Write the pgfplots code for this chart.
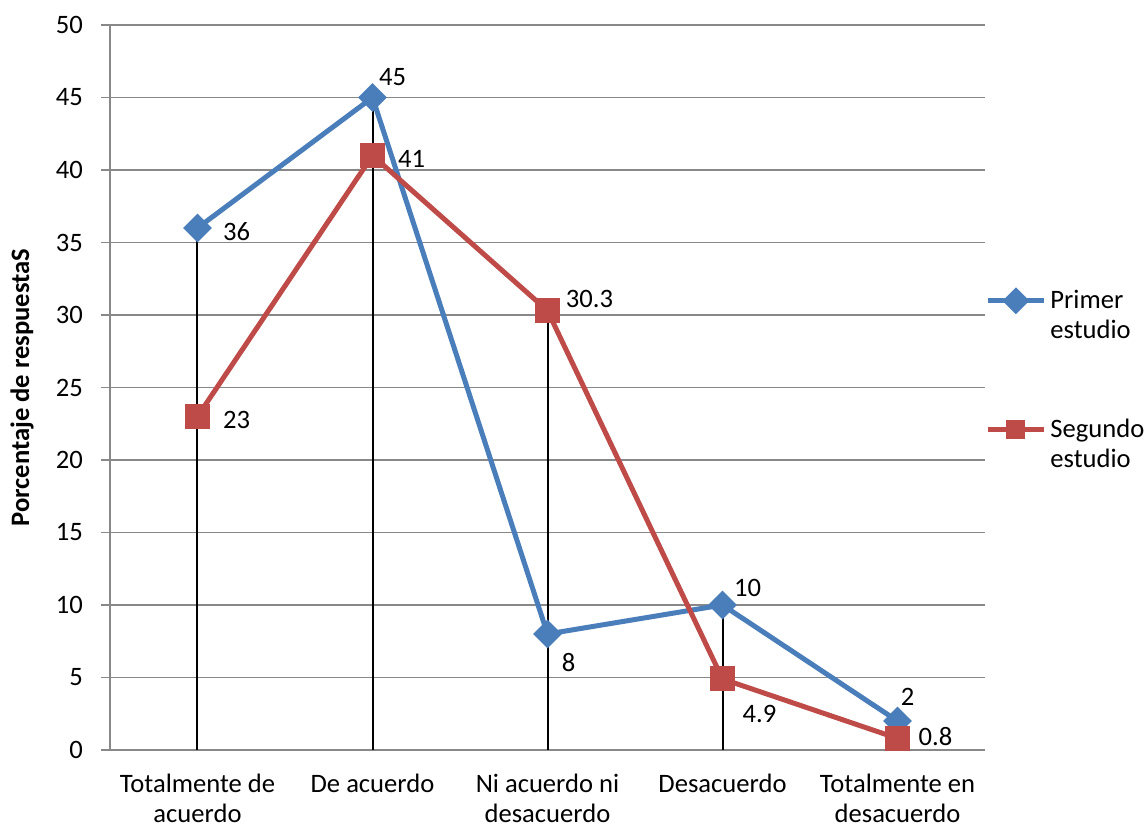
\documentclass[border=0pt]{standalone}
\usepackage{fontspec}
\setmainfont{Carlito}
\usepackage{pgfplots}
\pgfplotsset{compat=1.18}
\definecolor{serieA}{HTML}{4A7EBB}
\definecolor{serieB}{HTML}{BE4B48}
\definecolor{rejilla}{HTML}{888888}

\begin{document}
\begin{tikzpicture}[font=\fontsize{13.3}{15}\selectfont]
\path[use as bounding box] (-55pt,-39.5pt) rectangle (518.5pt,375pt);
\begin{axis}[
  scale only axis,
  width=437.5pt, height=362.5pt,
  xmin=-0.5, xmax=4.5, ymin=0, ymax=50,
  axis x line*=bottom, axis y line*=left,
  axis line style={rejilla, line width=0.75pt, -},
  xtick={0,1,2,3,4},
  xticklabels={{Totalmente de\\acuerdo},{De acuerdo},{Ni acuerdo ni\\desacuerdo},{Desacuerdo},{Totalmente en\\desacuerdo}},
  x tick label style={align=center, yshift=-4pt},
  major x tick style={draw=none},
  ytick={0,5,...,50},
  tick align=outside,
  major tick length=4.5pt,
  y tick style={rejilla, line width=0.75pt},
  yticklabel style={xshift=-5.5pt},
  ymajorgrids,
  grid style={rejilla, line width=0.75pt},
  /pgf/number format/assume math mode=true,
  ylabel={\bfseries Porcentaje de respuestaS},
  ylabel style={at={(axis description cs:-0.1006,0.5)}, rotate=0, anchor=center},
  legend style={draw=none, fill=none, at={(axis description cs:1.0,0.532)}, anchor=west,
    cells={anchor=base west}, row sep=48.5pt, inner sep=0pt},
  legend image code/.code={\draw[#1, mark repeat=2, mark phase=2, mark size=3.5pt] plot coordinates {(0pt,4pt) (14pt,4pt) (28pt,4pt)};},
]
\addplot[serieA, line width=2.5pt, mark=square*, mark size=3.8pt, mark options={rotate=45, solid}]
  coordinates {(0,36) (1,45) (2,8) (3,10) (4,2)};
\addlegendentry{\begin{tabular}[t]{@{}l@{}}Primer\\estudio\end{tabular}}
\addplot[serieB, line width=2.5pt, mark=square*, mark size=5pt, mark options={solid}]
  coordinates {(0,23) (1,41) (2,30.3) (3,4.9) (4,0.8)};
\addlegendentry{\begin{tabular}[t]{@{}l@{}}Segundo\\estudio\end{tabular}}
\addplot[ycomb, black, line width=1pt, mark=none, forget plot]
  coordinates {(0,36) (1,45) (2,30.3) (3,10) (4,2)};
% etiquetas de datos
\node at (axis cs:0,36) [xshift=19.5pt, yshift=-2pt] {36};
\node at (axis cs:0,23) [xshift=19.5pt, yshift=-1.5pt] {23};
\node at (axis cs:1,45) [xshift=10pt, yshift=10pt] {45};
\node at (axis cs:1,41) [xshift=19.5pt, yshift=-1.5pt] {41};
\node at (axis cs:2,30.3) [xshift=21pt, yshift=6pt] {30.3};
\node at (axis cs:2,8) [xshift=10.5pt, yshift=-14.5pt] {8};
\node at (axis cs:3,10) [xshift=12.5pt, yshift=8.5pt] {10};
\node at (axis cs:3,4.9) [xshift=18.5pt, yshift=-17.5pt] {4.9};
\node at (axis cs:4,2) [xshift=5pt, yshift=12pt] {2};
\node at (axis cs:4,0.8) [xshift=19pt, yshift=1pt] {0.8};
\end{axis}
\end{tikzpicture}
\end{document}
